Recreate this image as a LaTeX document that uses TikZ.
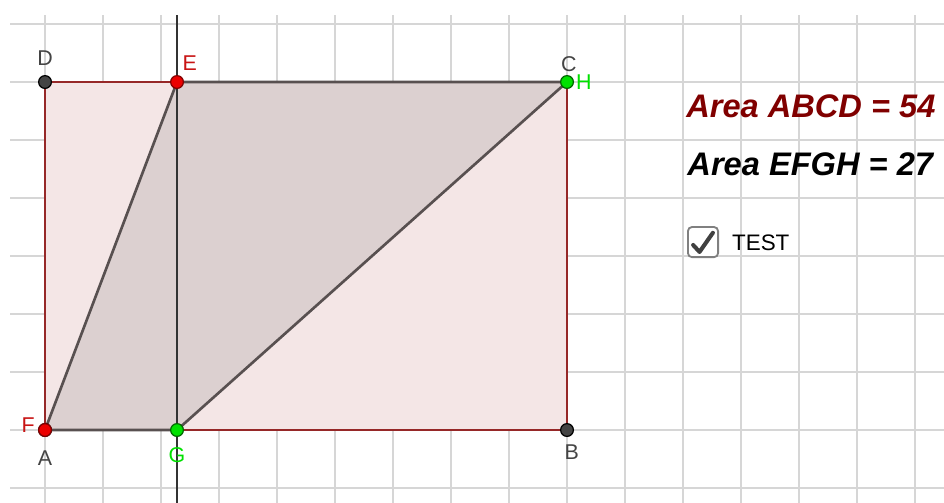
\documentclass[tikz,border=0pt]{standalone}
\usepackage{fontspec}
\setmainfont{Liberation Sans}
\definecolor{rectred}{RGB}{150, 40, 40}
\definecolor{rectfill}{RGB}{244, 230, 230}
\definecolor{polyfill}{RGB}{220, 208, 208}
\definecolor{polyedge}{RGB}{88, 80, 80}
\definecolor{areared}{RGB}{128, 0, 0}
\definecolor{pointred}{RGB}{235, 0, 0}
\definecolor{labelred}{RGB}{200, 20, 20}
\definecolor{pointgreen}{RGB}{0, 225, 0}
\definecolor{labelgray}{RGB}{68, 68, 68}
\definecolor{gridgray}{RGB}{214, 214, 214}
\usetikzlibrary{positioning,calc}

\begin{document}
\begin{tikzpicture}[
    gridline/.style={gridgray,line width=0.75pt},
    dot/.style={circle,line width=0.6pt,inner sep=0pt,minimum size=0.22cm},
    lbl/.style={inner sep=0pt,font=\fontsize{10.5}{12}\selectfont},
    areatext/.style={anchor=base west,inner sep=0pt,font=\fontsize{16}{19}\selectfont\bfseries\itshape}]
    \useasboundingbox (-0.776,-1.258) rectangle (15.5,7.414);
    % grid
    \foreach \x in {0,...,15}
        \draw[gridline] (\x,-1.258) -- (\x,7.155);
    \foreach \y in {-1,...,7}
        \draw[gridline] (-0.603,\y) -- (15.5,\y);

    \coordinate (A) at (0,0);
    \coordinate (B) at (9,0);
    \coordinate (C) at (9,6);
    \coordinate (D) at (0,6);
    \coordinate (E) at (2.276,6);
    \coordinate (G) at (2.276,0);

    \fill[rectfill] (A) -- (B) -- (C) -- (D) -- cycle;
    \fill[polyfill] (E) -- (A) -- (G) -- (C) -- cycle;

    % axis
    \draw[line width=1.3pt,black!80] (2.276,-1.258) -- (2.276,7.155);

    \draw[rectred,line width=1.3pt] (A) -- (B) -- (C) -- (D) -- cycle;
    \draw[polyedge,line width=1.3pt,line join=round] (E) -- (A) -- (G) -- (C) -- cycle;

    % points
    \node[dot,draw=black,fill=labelgray] (ptD) at (D) {};
    \node[dot,draw=black,fill=labelgray] (ptB) at (B) {};
    \node[dot,draw=black,fill=labelgray] (ptA) at (A) {};
    \node[dot,draw=areared,fill=pointred] (ptF) at (A) {};
    \node[dot,draw=areared,fill=pointred] (ptE) at (E) {};
    \node[dot,draw=black!60!green,fill=pointgreen] (ptG) at (G) {};
    \node[dot,draw=black!60!green,fill=pointgreen] (ptH) at (C) {};

    % labels
    \node[lbl,labelgray] (labD) at ($(D)+(0,0.41)$) {D};
    \node[lbl,labelred] (labE) at ($(E)+(0.22,0.33)$) {E};
    \node[lbl,labelgray] (labC) at ($(C)+(0.03,0.31)$) {C};
    \node[lbl,pointgreen] (labH) at ($(C)+(0.29,0)$) {H};
    \node[lbl,labelred] (labF) at ($(A)+(-0.29,0.09)$) {F};
    \node[lbl,labelgray] (labA) at ($(A)+(0,-0.48)$) {A};
    \node[lbl,pointgreen] (labG) at ($(G)+(0,-0.43)$) {G};
    \node[lbl,labelgray] (labB) at ($(B)+(0.08,-0.38)$) {B};

    \node[areatext,areared] (areaABCD) at (11.05,5.38) {Area ABCD = 54};
    \node[areatext,black] (areaEFGH) at (11.07,4.38) {Area EFGH = 27};

    % checkbox
    \node[draw=black!50,line width=0.9pt,rounded corners=2pt,fill=white,minimum size=0.52cm,inner sep=0pt] (chk) at (11.345,3.24) {};
    \draw[black!75,line width=2pt,line cap=round,line join=round]
        ($(chk)+(-0.17,-0.05)$) -- ($(chk)+(-0.06,-0.17)$) -- ($(chk)+(0.17,0.16)$);
    \node[anchor=base west,inner sep=0pt,font=\fontsize{11}{13}\selectfont] (test) at (11.84,3.09) {TEST};
\end{tikzpicture}
\end{document}
